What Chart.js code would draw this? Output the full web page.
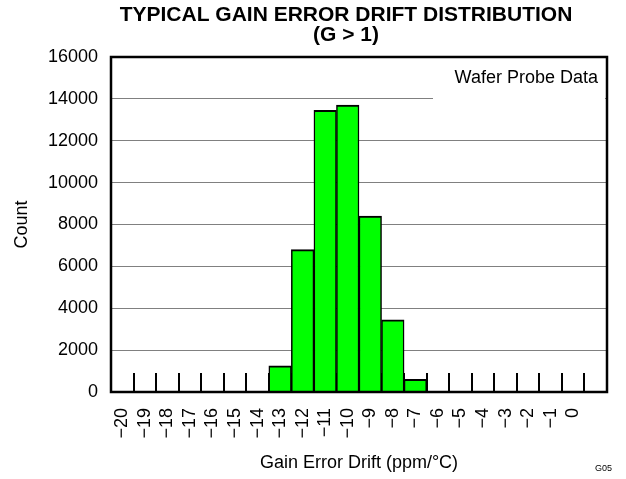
<!DOCTYPE html>
<html>
<head>
<meta charset="utf-8">
<script src="https://cdn.jsdelivr.net/npm/chart.js@4/dist/chart.umd.min.js"></script>
<style>
html,body{margin:0;padding:0;background:#fff;}
#wrap{width:626px;height:479px;position:relative;}
</style>
</head>
<body>
<div id="wrap"><canvas id="c" width="626" height="479"></canvas></div>
<script>
const categories = ['−20','−19','−18','−17','−16','−15','−14','−13','−12','−11','−10','−9','−8','−7','−6','−5','−4','−3','−2','−1','0',''];
const counts = [0,0,0,0,0,0,0,1250,6800,13450,13700,8400,3450,600,0,0,0,0,0,0,0,0];
const yTicks = [0,2000,4000,6000,8000,10000,12000,14000,16000];
const titleLines = ['TYPICAL GAIN ERROR DRIFT DISTRIBUTION','(G > 1)'];
const xTitle = 'Gain Error Drift (ppm/°C)';
const yTitle = 'Count';
const noteText = 'Wafer Probe Data';
const figId = 'G05';

const FONT = "'Liberation Sans', Arial, sans-serif";

const decor = {
  id:'decor',
  beforeDatasetsDraw(chart){
    const ctx = chart.ctx, a = chart.chartArea, x = chart.scales.x, y = chart.scales.y;
    ctx.save();
    ctx.fillStyle = '#fff';
    ctx.fillRect(a.right - 174, a.top + 2, 172, y.getPixelForValue(13000) - a.top);
    const half = (x.getPixelForValue(1) - x.getPixelForValue(0)) / 2;
    ctx.strokeStyle = '#000';
    ctx.lineWidth = 2;
    for (let i = 0; i < categories.length - 1; i++) {
      const px = Math.round(x.getPixelForValue(i) + half);
      ctx.beginPath();
      ctx.moveTo(px, a.bottom);
      ctx.lineTo(px, a.bottom - 19);
      ctx.stroke();
    }
    ctx.restore();
  },
  afterDatasetsDraw(chart){
    const ctx = chart.ctx, a = chart.chartArea;
    ctx.save();
    ctx.strokeStyle = '#000';
    ctx.lineWidth = 2.5;
    ctx.strokeRect(a.left, a.top, a.right - a.left, a.bottom - a.top);
    ctx.fillStyle = '#000';
    ctx.font = '18px ' + FONT;
    ctx.textAlign = 'right';
    ctx.textBaseline = 'middle';
    ctx.fillText(noteText, a.right - 9, a.top + 21);
    ctx.font = 'bold 21px ' + FONT;
    ctx.textAlign = 'center';
    ctx.fillText(titleLines[0], 346, 15);
    ctx.fillText(titleLines[1], 346, 35);
    ctx.font = '9px ' + FONT;
    ctx.textAlign = 'right';
    ctx.fillText(figId, 612, 469);
    ctx.restore();
  }
};

new Chart(document.getElementById('c'), {
  type:'bar',
  data:{
    labels:categories,
    datasets:[{
      data:counts,
      backgroundColor:'#00ff00',
      borderColor:'#000',
      borderWidth:{top:2,left:1.5,right:1.5,bottom:0},
      borderSkipped:false,
      barPercentage:1,
      categoryPercentage:1
    }]
  },
  options:{
    responsive:false,
    animation:false,
    devicePixelRatio:1,
    layout:{padding:{left:0,right:19,top:57,bottom:0}},
    plugins:{legend:{display:false},title:{display:false},tooltip:{enabled:false}},
    scales:{
      x:{
        offset:true,
        grid:{display:false,drawTicks:false},
        border:{display:false},
        ticks:{color:'#000',font:{family:FONT,size:18},minRotation:90,maxRotation:90,padding:16,autoSkip:false},
        title:{display:true,text:xTitle,color:'#000',font:{family:FONT,size:18},padding:{top:0,bottom:5}},
        afterFit(s){ s.height = 87; s.paddingLeft = 0; s.paddingRight = 0; }
      },
      y:{
        min:0,max:16000,
        afterBuildTicks(s){ s.ticks = yTicks.map(v=>({value:v})); },
        grid:{color:'#808080',lineWidth:1,drawTicks:false},
        border:{display:false},
        ticks:{color:'#000',font:{family:FONT,size:18},padding:13,callback:(v)=>String(v)},
        title:{display:true,text:yTitle,color:'#000',font:{family:FONT,size:18},padding:{top:11,bottom:0}},
        afterFit(s){ s.width = 111; s.paddingTop = 0; s.paddingBottom = 0; }
      }
    }
  },
  plugins:[decor]
});
</script>
</body>
</html>
